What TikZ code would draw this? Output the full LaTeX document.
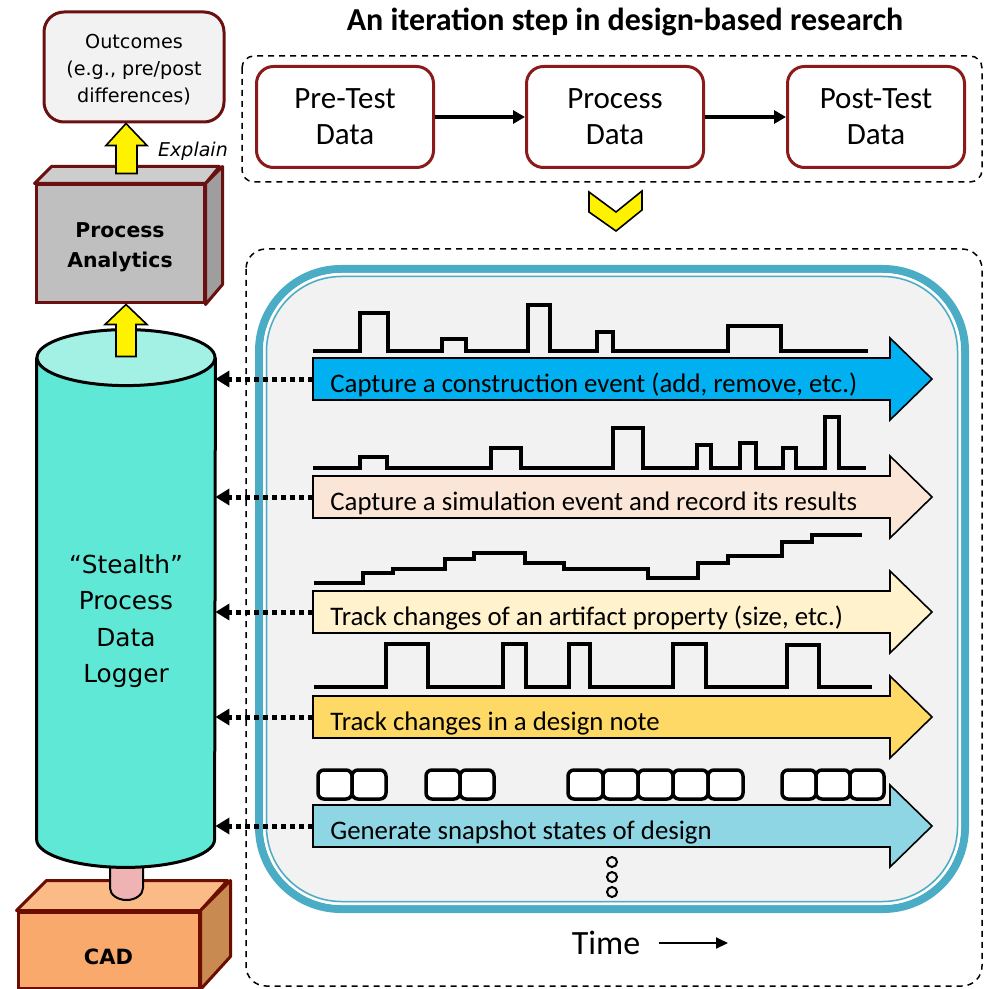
\documentclass[tikz,border=0pt]{standalone}
\usepackage{fontspec}
\setmainfont{Carlito}
\newfontfamily\dejavu{DejaVu Sans}
\usetikzlibrary{arrows.meta}

\definecolor{boxred}{HTML}{8B1A1A}
\definecolor{cubered}{HTML}{6B1010}
\definecolor{cadred}{HTML}{6B0E00}
\definecolor{lightgray}{HTML}{F2F2F2}
\definecolor{pafront}{HTML}{BFBFBF}
\definecolor{patop}{HTML}{CDCDCD}
\definecolor{paside}{HTML}{9E9E9E}
\definecolor{cylbody}{HTML}{60E8D6}
\definecolor{cyltop}{HTML}{A3F1E5}
\definecolor{plug}{HTML}{EFB3B3}
\definecolor{cadfront}{HTML}{F9A96B}
\definecolor{cadtop}{HTML}{FBBB87}
\definecolor{cadside}{HTML}{C98A52}
\definecolor{panelblue}{HTML}{4BACC6}
\definecolor{evblue}{HTML}{00B0F0}
\definecolor{evpeach}{HTML}{FBE5D6}
\definecolor{evcream}{HTML}{FFF2CC}
\definecolor{evgold}{HTML}{FFD966}
\definecolor{evsky}{HTML}{8ED6E3}

\tikzset{
  stepbox/.style={draw=boxred, line width=1.5pt, fill=white, rounded corners=8.5pt,
    minimum width=88.5pt, minimum height=50.5pt, align=center,
    font=\fontsize{15.5}{18}\selectfont},
  flowarrow/.style={line width=2pt, -{Triangle[length=6pt,width=6.5pt]}},
  yellowarrow/.style={draw=black, line width=0.8pt, fill=yellow, line join=miter},
  evshape/.style={draw=black, line width=0.8pt},
  evtext/.style={anchor=west, inner xsep=8.5pt, inner ysep=0pt, text height=16pt, text depth=3pt,
    font=\fontsize{13.4}{15}\selectfont},
  signal/.style={line width=1.75pt, line join=miter},
  snapbox/.style={draw=black, line width=1.75pt, fill=white, rounded corners=3pt},
  logarrow/.style={line width=2.5pt, dash pattern=on 2.5pt off 2pt, -{Triangle[length=7pt,width=8pt]}},
  framebox/.style={dashed, line width=0.75pt, dash pattern=on 3pt off 2.5pt}
}

\begin{document}
\begin{tikzpicture}[x=0.5pt,y=-0.5pt]
\useasboundingbox (0,0) rectangle (986,989);
%\draw [help lines] (0,0) grid (986,989);

% left column
\node [draw=cubered, line width=1.5pt, fill=lightgray, rounded corners=10pt, minimum width=90pt, minimum height=55pt,
  align=center, font=\dejavu\fontsize{9.6}{13.5}\selectfont] (outc) at (134,67) {\strut Outcomes\\(e.g., pre/post\\differences)};

\node [draw=cubered, line width=1.5pt, fill=pafront, minimum width=84pt, minimum height=59pt, align=center,
  font=\dejavu\bfseries\fontsize{10.2}{15}\selectfont] (pa) at (120,244) {\strut Process\\Analytics};
\draw [draw=cubered, line width=1.5pt, fill=patop, line join=round] (pa.north west) -- ++(17,-17) -- ++(168,0) -- (pa.north east) -- cycle;
\draw [draw=cubered, line width=1.5pt, fill=paside, line join=round] (pa.north east) -- ++(17,-17) -- ++(0,118) -- (pa.south east) -- cycle;

\node [draw=cadred, line width=1.5pt, fill=cadfront, minimum width=90.5pt, minimum height=38pt,
  text height=15pt, font=\dejavu\bfseries\fontsize{10.5}{12}\selectfont] (cad) at (108.5,950) {CAD};
\draw [draw=cadred, line width=1.5pt, fill=cadtop, line join=round] (cad.north west) -- ++(30,-30) -- ++(181,0) -- (cad.north east) -- cycle;
\draw [draw=cadred, line width=1.5pt, fill=cadside, line join=round] (cad.north east) -- ++(30,-30) -- ++(0,76) -- (cad.south east) -- cycle;

% plug between logger and CAD
\draw [line width=1pt, fill=plug] (110,850) -- (110,888) arc [start angle=180, end angle=360, x radius=8.25pt, y radius=6pt] -- (143,850);

% logger cylinder
\node [minimum width=89pt, minimum height=240.5pt, inner sep=0pt] (cylbody) at (126,598.5) {};
\fill [cylbody] (cylbody.south west) arc [start angle=180, end angle=360, x radius=44.5pt, y radius=14pt] -- (cylbody.north east) -- (cylbody.north west) -- cycle;
\draw [line width=1.5pt] (cylbody.north west) -- (cylbody.south west) arc [start angle=180, end angle=360, x radius=44.5pt, y radius=14pt] -- (cylbody.north east);
\draw [line width=1.5pt, fill=cyltop] (cylbody.north) ellipse [x radius=44.5pt, y radius=14pt];
\node [align=center, font=\dejavu\fontsize{12.4}{18.2}\selectfont] (logger) at (126,621) {“Stealth”\\Process\\Data\\Logger};

% yellow arrows
\draw [yellowarrow] (outc.south -| cylbody.north) -- ++(21,22) -- ++(-10,0) -- ++(0,28) -- ++(-21,0) -- ++(0,-28) -- ++(-10,0) -- cycle;
\node [font=\dejavu\itshape\fontsize{9.5}{11}\selectfont] (explain) at (193,151) {Explain};
\draw [yellowarrow] (pa.south -| cylbody.north) -- ++(21,20) -- ++(-11,0) -- ++(0,32) -- ++(-20,0) -- ++(0,-32) -- ++(-11,0) -- cycle;

% top: one iteration
\node [font=\bfseries\fontsize{16}{18}\selectfont] (title) at (625,22) {An iteration step in design-based research};
\draw [framebox, rounded corners=6pt] (242,56) rectangle (982,182);
\node [stepbox] (pre) at (345,117) {Pre-Test\\Data};
\node [stepbox] (proc) at (615,117) {Process\\Data};
\node [stepbox] (post) at (876,117) {Post-Test\\Data};
\draw [flowarrow] (pre) -- (proc);
\draw [flowarrow] (proc) -- (post);

\draw [yellowarrow] (589,192) -- (616,212) -- (642,191) -- (642,210) -- (616,231) -- (589,212) -- cycle;

% bottom: process data panel
\draw [framebox, rounded corners=10pt] (246,249) rectangle (982,986);
\draw [panelblue, line width=4pt, fill=lightgray, rounded corners=41pt] (259,269) rectangle (965,909);
\draw [white, line width=1pt, rounded corners=38.75pt] (264,274) rectangle (960,904);
\draw [panelblue, line width=0.75pt, rounded corners=37.5pt] (266.5,276.5) rectangle (957.5,901.5);

% signals
\draw [signal] (313,351) -- (360,351) -- (360,313) -- (388,313) -- (388,351) -- (442,351) -- (442,339) -- (466,339) -- (466,351) -- (528,351) -- (528,305) -- (550,305) -- (550,351) -- (597,351) -- (597,332) -- (613,332) -- (613,351) -- (728,351) -- (728,326) -- (781,326) -- (781,351) -- (868,351);
\draw [signal] (313,468) -- (360,468) -- (360,457) -- (387,457) -- (387,468) -- (491,468) -- (491,448) -- (521,448) -- (521,468) -- (613,468) -- (613,428) -- (643,428) -- (643,468) -- (697,468) -- (697,445) -- (711,445) -- (711,468) -- (740,468) -- (740,443) -- (756,443) -- (756,468) -- (783,468) -- (783,448) -- (796,448) -- (796,468) -- (825,468) -- (825,417) -- (839,417) -- (839,468) -- (866,468);
\draw [signal] (314,583) -- (363,583) -- (363,573) -- (393,573) -- (393,569) -- (445,569) -- (445,559) -- (474,559) -- (474,553) -- (525,553) -- (525,563) -- (564,563) -- (564,569) -- (648,569) -- (648,578) -- (698,578) -- (698,563) -- (728,563) -- (728,556) -- (782,556) -- (782,542) -- (812,542) -- (812,535) -- (862,535);
\draw [signal] (314,687) -- (386,687) -- (386,644) -- (428,644) -- (428,687) -- (503,687) -- (503,644) -- (526,644) -- (526,687) -- (569,687) -- (569,644) -- (590,644) -- (590,687) -- (673,687) -- (673,644) -- (706,644) -- (706,687) -- (787,687) -- (787,645) -- (819,645) -- (819,687) -- (872,687);

% snapshots
\draw [snapbox] (318,770) rectangle ++(34,29);
\draw [snapbox] (352,770) rectangle ++(34,29);
\draw [snapbox] (426,770) rectangle ++(34,29);
\draw [snapbox] (460,770) rectangle ++(34,29);
\draw [snapbox] (568,770) rectangle ++(35,29);
\draw [snapbox] (603,770) rectangle ++(35,29);
\draw [snapbox] (638,770) rectangle ++(35,29);
\draw [snapbox] (673,770) rectangle ++(35,29);
\draw [snapbox] (708,770) rectangle ++(35,29);
\draw [snapbox] (782,770) rectangle ++(34,29);
\draw [snapbox] (816,770) rectangle ++(34,29);
\draw [snapbox] (850,770) rectangle ++(34,29);

% event arrows
\draw [evshape, fill=evblue] (313,358) -- (890,358) -- (890,338) -- (932,379) -- (890,420) -- (890,400) -- (313,400) -- cycle;
\node [evtext] (ev1) at (313,379) {Capture a construction event (add, remove, etc.)};
\draw [evshape, fill=evpeach] (313,476) -- (890,476) -- (890,456) -- (932,497) -- (890,538) -- (890,518) -- (313,518) -- cycle;
\node [evtext] (ev2) at (313,497) {Capture a simulation event and record its results};
\draw [evshape, fill=evcream] (313,591) -- (890,591) -- (890,571) -- (932,612) -- (890,653) -- (890,633) -- (313,633) -- cycle;
\node [evtext] (ev3) at (313,612) {Track changes of an artifact property (size, etc.)};
\draw [evshape, fill=evgold] (313,696) -- (890,696) -- (890,676) -- (932,717) -- (890,758) -- (890,738) -- (313,738) -- cycle;
\node [evtext] (ev4) at (313,717) {Track changes in a design note};
\draw [evshape, fill=evsky] (313,805) -- (890,805) -- (890,785) -- (932,826) -- (890,867) -- (890,847) -- (313,847) -- cycle;
\node [evtext] (ev5) at (313,826) {Generate snapshot states of design};

% more events
\draw [line width=1pt] (612,862) circle (2.5pt);
\draw [line width=1pt] (612,877) circle (2.5pt);
\draw [line width=1pt] (612,892) circle (2.5pt);

% logging
\draw [logarrow] (ev1.west) -- (ev1.west -| cylbody.east);
\draw [logarrow] (ev2.west) -- (ev2.west -| cylbody.east);
\draw [logarrow] (ev3.west) -- (ev3.west -| cylbody.east);
\draw [logarrow] (ev4.west) -- (ev4.west -| cylbody.east);
\draw [logarrow] (ev5.west) -- (ev5.west -| cylbody.east);

\node [font=\fontsize{17}{20}\selectfont] (time) at (606,943) {Time};
\coordinate (timeend) at (728,943);
\draw [line width=1pt, -{Triangle[length=6pt,width=5.5pt]}, shorten <=6pt] (time.east) -- (timeend);
\end{tikzpicture}
\end{document}
